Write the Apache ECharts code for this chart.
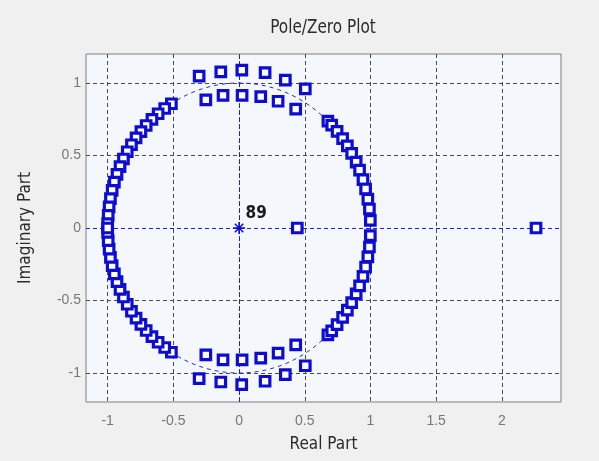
<!DOCTYPE html>
<html>
<head>
<meta charset="utf-8">
<script src="https://cdn.jsdelivr.net/npm/echarts@6/dist/echarts.min.js"></script>
<style>
  html, body { margin: 0; padding: 0; background: #f0f0f0; }
  #chart { width: 599px; height: 461px; }
</style>
</head>
<body>
<div id="chart"></div>
<script>
// Tick positions on both axes
const xTicks = [-1, -0.5, 0, 0.5, 1, 1.5, 2];
const yTicks = [-1, -0.5, 0, 0.5, 1];

// Zeros (real, imaginary): passband pairs off the unit circle
const passbandUpper = [
  [-0.304, 1.048], [-0.139, 1.077], [0.021, 1.089], [0.198, 1.071], [0.352, 1.020], [0.504, 0.959],
  [-0.253, 0.884], [-0.122, 0.915], [0.023, 0.915], [0.165, 0.906], [0.297, 0.874], [0.431, 0.820]
];
const passbandLower = [
  [-0.304, -1.039], [-0.139, -1.062], [0.020, -1.080], [0.198, -1.057], [0.352, -1.011], [0.504, -0.950],
  [-0.253, -0.875], [-0.122, -0.909], [0.023, -0.909], [0.165, -0.897], [0.297, -0.863], [0.431, -0.806]
];

// Stopband zeros on the unit circle, left arc
const leftArcUpper = [
  [-0.515, 0.857], [-0.566, 0.824], [-0.616, 0.788], [-0.663, 0.749], [-0.707, 0.707], [-0.747, 0.665],
  [-0.784, 0.621], [-0.819, 0.574], [-0.851, 0.526], [-0.880, 0.476], [-0.906, 0.423], [-0.929, 0.370],
  [-0.949, 0.316], [-0.966, 0.259], [-0.979, 0.203], [-0.989, 0.146], [-0.996, 0.087], [-1.000, 0.030]
];
const leftArcLower = [
  [-0.515, -0.857], [-0.566, -0.824], [-0.616, -0.788], [-0.663, -0.749], [-0.707, -0.707], [-0.747, -0.665],
  [-0.784, -0.621], [-0.819, -0.574], [-0.851, -0.526], [-0.880, -0.476], [-0.906, -0.423], [-0.929, -0.370],
  [-0.949, -0.316], [-0.966, -0.259], [-0.979, -0.203], [-0.989, -0.146], [-0.996, -0.087], [-1.000, -0.030]
];

// Stopband zeros on the unit circle, right arc
const rightArcUpper = [
  [0.676, 0.737], [0.705, 0.709], [0.746, 0.666], [0.788, 0.616], [0.824, 0.567], [0.857, 0.515],
  [0.891, 0.454], [0.917, 0.399], [0.943, 0.333], [0.963, 0.269], [0.980, 0.199], [0.992, 0.131], [0.999, 0.052]
];
const rightArcLower = [
  [0.676, -0.737], [0.705, -0.709], [0.746, -0.666], [0.788, -0.616], [0.824, -0.567], [0.857, -0.515],
  [0.891, -0.454], [0.917, -0.399], [0.943, -0.333], [0.963, -0.269], [0.980, -0.199], [0.992, -0.131], [0.999, -0.052]
];

// Real-axis zeros
const realZeros = [[-1.000, 0], [0.443, 0], [2.260, 0]];

// Poles: all at the origin, with their multiplicity
const poles = [[0, 0]];
const poleCount = 89;

// Unit circle: centre x, centre y, radius
const unitCircle = [[0, 0, 1]];

const blue = '#0c0cd2';
const narrowFont = '"Liberation Sans Narrow", "DejaVu Sans Condensed", sans-serif';

const zeroSeries = (name, data) => ({
  name, type: 'scatter', data,
  symbol: 'rect', symbolSize: 9.5,
  itemStyle: { color: '#ffffff', borderColor: blue, borderWidth: 3.2, opacity: 1 },
  z: 5, silent: true
});

const chart = echarts.init(document.getElementById('chart'), null, { renderer: 'canvas' });

chart.setOption({
  backgroundColor: '#f0f0f0',
  animation: false,
  graphic: [{
    type: 'text', x: 323, y: 28, scaleX: 0.85, silent: true,
    style: { text: 'Pole/Zero Plot', font: '20px ' + narrowFont, fill: '#2b2b2b', align: 'center', verticalAlign: 'middle' }
  }],
  grid: {
    left: 86, right: 38, top: 54, bottom: 59,
    show: true, backgroundColor: '#f4f7fc', borderColor: '#7f7f7f', borderWidth: 1
  },
  xAxis: {
    type: 'value', min: -1.165, max: 2.45,
    name: 'Real Part', nameLocation: 'middle', nameGap: 34,
    nameTextStyle: { fontFamily: narrowFont, fontSize: 17, color: '#2b2b2b' },
    axisLine: { show: false },
    axisTick: { show: false, customValues: xTicks },
    axisLabel: { customValues: xTicks, color: '#777777', fontFamily: 'Liberation Sans', fontSize: 14, margin: 12,
      formatter: v => String(v) },
    splitLine: { show: true, lineStyle: { color: '#4a4a4a', type: [4, 3], width: 1 } }
  },
  yAxis: {
    type: 'value', min: -1.2, max: 1.2,
    name: 'Imaginary Part', nameLocation: 'middle', nameGap: 52,
    nameTextStyle: { fontFamily: narrowFont, fontSize: 17, color: '#2b2b2b' },
    axisLine: { show: false },
    axisTick: { show: false, customValues: yTicks },
    axisLabel: { customValues: yTicks, color: '#777777', fontFamily: 'Liberation Sans', fontSize: 14, margin: 5,
      formatter: v => String(v) },
    splitLine: { show: true, lineStyle: { color: '#4a4a4a', type: [4, 3], width: 1 } }
  },
  series: [
    {
      name: 'unit circle', type: 'custom', data: unitCircle, silent: true, z: 2,
      renderItem(params, api) {
        const c = api.coord([api.value(0), api.value(1)]);
        const s = api.size([api.value(2), api.value(2)]);
        return {
          type: 'ellipse',
          shape: { cx: c[0], cy: c[1], rx: s[0], ry: s[1] },
          style: { fill: 'none', stroke: '#2a2ad0', lineWidth: 1, lineDash: [4, 4] }
        };
      },
      markLine: {
        silent: true, symbol: ['none', 'none'], label: { show: false },
        lineStyle: { color: '#1c1cdc', type: [4, 3], width: 1, opacity: 1 },
        data: [{ xAxis: 0 }, { yAxis: 0 }]
      }
    },
    zeroSeries('passband upper', passbandUpper),
    zeroSeries('passband lower', passbandLower),
    zeroSeries('left arc upper', leftArcUpper),
    zeroSeries('left arc lower', leftArcLower),
    zeroSeries('right arc upper', rightArcUpper),
    zeroSeries('right arc lower', rightArcLower),
    zeroSeries('real zeros', realZeros),
    {
      name: 'poles', type: 'scatter', data: poles, silent: true, z: 6,
      symbol: 'path://M6,0L6,12M0,6L12,6M1.8,1.8L10.2,10.2M1.8,10.2L10.2,1.8',
      symbolSize: 12,
      itemStyle: { color: 'none', borderColor: blue, borderWidth: 1.5, opacity: 1 },
      label: {
        show: true, formatter: String(poleCount), position: 'right', distance: 0, offset: [-2, -14],
        fontFamily: narrowFont, fontSize: 17, color: '#1a1a1a', fontWeight: 'bold'
      }
    }
  ]
});
</script>
</body>
</html>
